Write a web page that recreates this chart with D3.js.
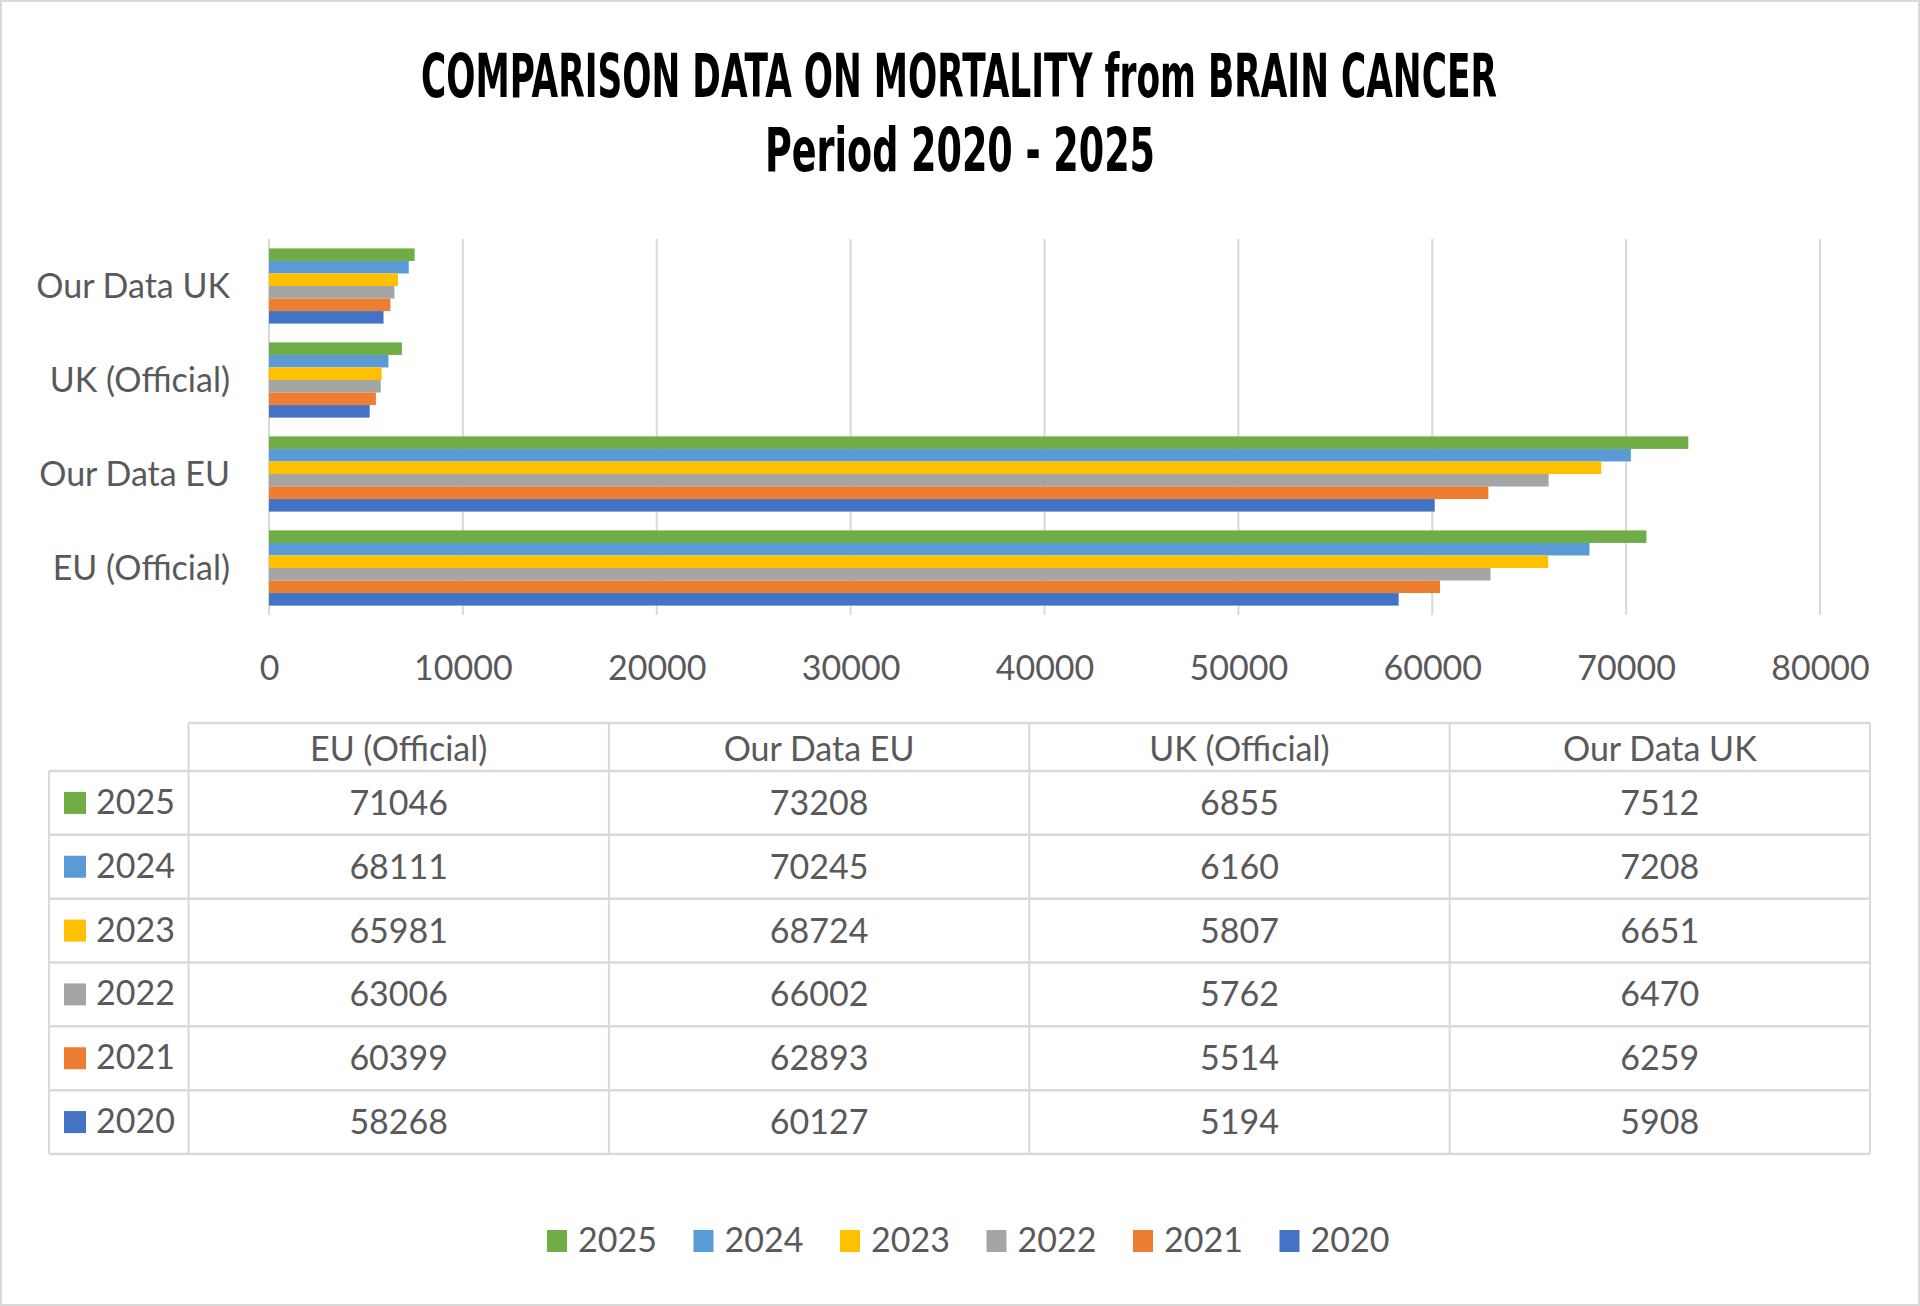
<!DOCTYPE html>
<html>
<head>
    <meta charset="utf-8" />
    <title>Brain cancer mortality 2020 - 2025</title>
    <script src="https://d3js.org/d3.v7.min.js"></script>
    <style type='text/css'>
        body { margin: 0; background: #fff; }
        .lbl { font-family: Lato, 'Open Sans', sans-serif; font-size: 34px; fill: #595959; }
        .title { font-family: 'Liberation Sans Narrow', 'DejaVu Sans Condensed', sans-serif; font-stretch: condensed; font-weight: bold; font-size: 61px; fill: #000; }
    </style>
</head>
<body>
    <script>
        // data
        var categories = ['EU (Official)', 'Our Data EU', 'UK (Official)', 'Our Data UK'];
        var years = [2025, 2024, 2023, 2022, 2021, 2020];
        var colors = ['#70AD47', '#5B9BD5', '#FFC000', '#A5A5A5', '#ED7D31', '#4472C4'];
        var v2025 = [71046, 73208, 6855, 7512];
        var v2024 = [68111, 70245, 6160, 7208];
        var v2023 = [65981, 68724, 5807, 6651];
        var v2022 = [63006, 66002, 5762, 6470];
        var v2021 = [60399, 62893, 5514, 6259];
        var v2020 = [58268, 60127, 5194, 5908];
        var series = [v2025, v2024, v2023, v2022, v2021, v2020];
        var xTicks = [0, 10000, 20000, 30000, 40000, 50000, 60000, 70000, 80000];

        var width = 1920, height = 1306;
        var grid = '#d9d9d9';

        var svg = d3.select('body').append('svg')
            .attr('width', width)
            .attr('height', height);

        svg.append('rect')
            .attr('x', 1).attr('y', 1)
            .attr('width', width - 2).attr('height', height - 2)
            .attr('fill', '#fff')
            .attr('stroke', grid).attr('stroke-width', 2);

        // title
        svg.append('text').attr('class', 'title')
            .attr('x', 959).attr('y', 97)
            .attr('text-anchor', 'middle')
            .attr('textLength', 1076).attr('lengthAdjust', 'spacingAndGlyphs')
            .text('COMPARISON DATA ON MORTALITY from BRAIN CANCER');
        svg.append('text').attr('class', 'title')
            .attr('x', 960).attr('y', 171)
            .attr('text-anchor', 'middle')
            .attr('textLength', 390).attr('lengthAdjust', 'spacingAndGlyphs')
            .text('Period 2020 - 2025');

        // bar chart
        var plotTop = 239, plotBottom = 615, plotLeft = 269, plotRight = 1820;

        var x = d3.scaleLinear()
            .domain([0, 80000])
            .range([plotLeft, plotRight]);

        var y = d3.scaleBand()
            .domain(categories.slice().reverse())
            .range([plotTop, plotBottom])
            .paddingInner(0.2)
            .paddingOuter(0.1);

        var yYear = d3.scaleBand()
            .domain(years)
            .range([0, y.bandwidth()]);

        var ax = d3.axisBottom(x).tickValues(xTicks).tickSize(0).tickFormat(d3.format('d'));
        var gx = svg.append('g')
            .attr('transform', `translate(0,${plotBottom})`)
            .call(ax);
        gx.select('.domain').remove();
        gx.selectAll('text')
            .attr('class', 'lbl')
            .attr('font-family', null).attr('font-size', null)
            .attr('dy', null)
            .attr('y', 65)
            .attr('fill', null);

        svg.append('g').selectAll('line')
            .data(xTicks)
            .enter().append('line')
            .attr('x1', d => x(d)).attr('x2', d => x(d))
            .attr('y1', plotTop).attr('y2', plotBottom)
            .attr('stroke', grid).attr('stroke-width', 2);

        var ay = d3.axisLeft(y).tickSize(0).tickPadding(39);
        var gy = svg.append('g')
            .attr('transform', `translate(${plotLeft},0)`)
            .call(ay);
        gy.select('.domain').remove();
        gy.selectAll('text')
            .attr('class', 'lbl')
            .attr('font-family', null).attr('font-size', null)
            .attr('fill', null)
            .attr('dy', '0.36em');

        years.forEach(function (yr, k) {
            svg.append('g').selectAll('rect')
                .data(series[k])
                .enter().append('rect')
                .attr('x', x(0))
                .attr('y', (d, i) => y(categories[i]) + yYear(yr))
                .attr('width', d => x(d) - x(0))
                .attr('height', yYear.bandwidth())
                .attr('fill', colors[k]);
        });

        // data table
        var tLeft = 49, tLabel = 188.5, tRight = 1870, tTop = 723, tHead = 771, tBottom = 1154;

        var col = d3.scaleBand().domain(categories).range([tLabel, tRight]);
        var row = d3.scaleBand().domain(years).range([tHead, tBottom]);

        var table = svg.append('g');

        // horizontal rules
        table.append('line')
            .attr('x1', tLabel).attr('x2', tRight)
            .attr('y1', tTop).attr('y2', tTop)
            .attr('stroke', grid).attr('stroke-width', 2.5);
        table.selectAll('.hr')
            .data(years.concat(['end']))
            .enter().append('line')
            .attr('x1', tLeft).attr('x2', tRight)
            .attr('y1', d => d === 'end' ? tBottom : row(d))
            .attr('y2', d => d === 'end' ? tBottom : row(d))
            .attr('stroke', grid).attr('stroke-width', 2.5);

        // vertical rules
        table.append('line')
            .attr('x1', tLeft).attr('x2', tLeft)
            .attr('y1', tHead).attr('y2', tBottom)
            .attr('stroke', grid).attr('stroke-width', 2);
        table.selectAll('.vr')
            .data(categories.concat(['end']))
            .enter().append('line')
            .attr('x1', d => d === 'end' ? tRight : col(d))
            .attr('x2', d => d === 'end' ? tRight : col(d))
            .attr('y1', tTop).attr('y2', tBottom)
            .attr('stroke', grid).attr('stroke-width', 2);

        table.selectAll('.head')
            .data(categories)
            .enter().append('text')
            .attr('class', 'lbl')
            .attr('x', d => col(d) + col.bandwidth() / 2)
            .attr('y', tTop + (tHead - tTop) / 2 + 14)
            .attr('text-anchor', 'middle')
            .text(d => d);

        years.forEach(function (yr, k) {
            var cy = row(yr) + row.bandwidth() / 2;
            table.append('rect')
                .attr('x', 64).attr('y', cy - 11)
                .attr('width', 22).attr('height', 22)
                .attr('fill', colors[k]);
            table.append('text')
                .attr('class', 'lbl')
                .attr('x', 96).attr('y', cy + 11)
                .text(yr);
            table.append('g').selectAll('text')
                .data(series[k])
                .enter().append('text')
                .attr('class', 'lbl')
                .attr('x', (d, i) => col(categories[i]) + col.bandwidth() / 2)
                .attr('y', cy + 12)
                .attr('text-anchor', 'middle')
                .text(d => d);
        });

        // legend
        var lx = d3.scalePoint().domain(years).range([547, 1279.5]);
        var legend = svg.append('g').selectAll('g')
            .data(years)
            .enter().append('g')
            .attr('transform', d => `translate(${lx(d)},1230)`);
        legend.append('rect')
            .attr('width', 20).attr('height', 22)
            .attr('fill', (d, i) => colors[i]);
        legend.append('text')
            .attr('class', 'lbl')
            .attr('x', 31).attr('y', 22)
            .text(d => d);
    </script>
</body>
</html>
